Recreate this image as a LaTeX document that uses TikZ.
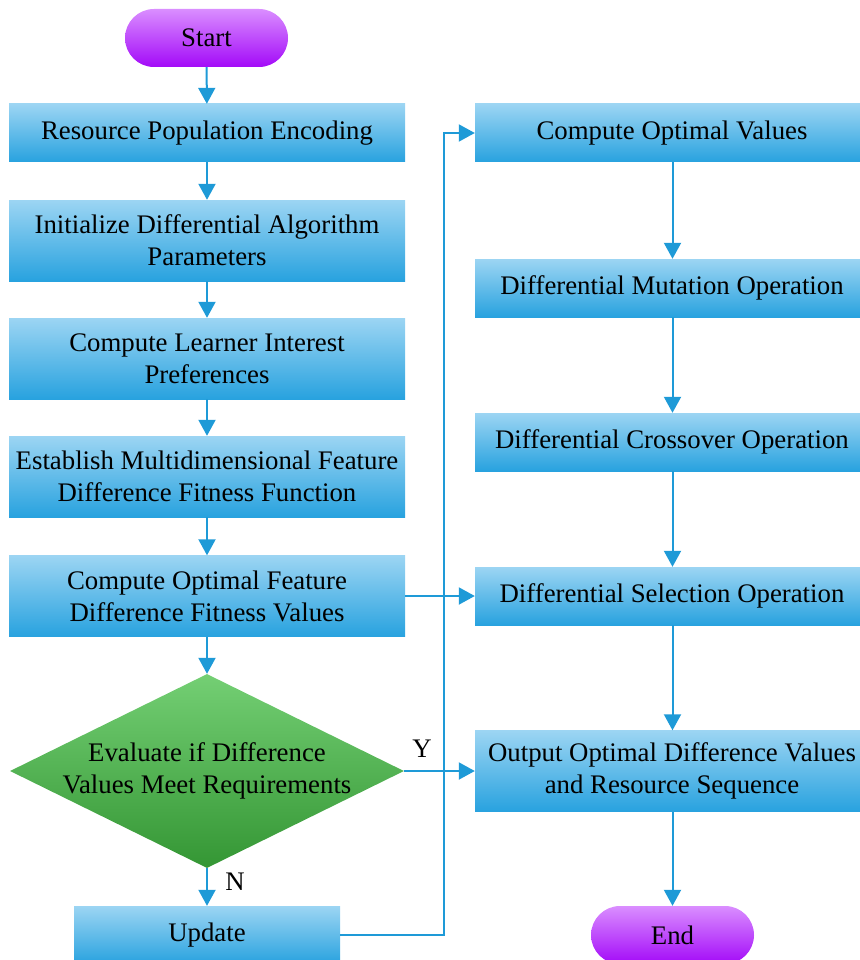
\documentclass[tikz,border=0pt]{standalone}
\usepackage{fontspec}
\setmainfont{Liberation Serif}
\usetikzlibrary{arrows.meta,shapes.geometric}
\definecolor{boxtop}{HTML}{9CD5F3}
\definecolor{boxbot}{HTML}{28A2DF}
\definecolor{arrowc}{HTML}{1E9AD7}
\definecolor{grtop}{HTML}{74CF74}
\definecolor{grbot}{HTML}{349634}
\definecolor{putop}{HTML}{DA8EFF}
\definecolor{pubot}{HTML}{A30AF8}
\begin{document}
\begin{tikzpicture}[x=1pt,y=-1pt,
  every node/.style={font=\fontsize{26.8}{32}\selectfont, text=black},
  proc/.style={rectangle, top color=boxtop, bottom color=boxbot, draw=none, inner sep=0pt, align=center},
  lbox/.style={proc, minimum width=396pt},
  rbox/.style={proc, minimum width=394pt},
  term/.style={rectangle, rounded corners=29pt, top color=putop, bottom color=pubot, draw=none, inner sep=0pt, minimum width=163pt, minimum height=58pt},
  decision/.style={diamond, top color=grtop, bottom color=grbot, draw=none, inner sep=0pt, minimum width=394pt, minimum height=194pt},
  arr/.style={draw=arrowc, line width=2pt, -{Triangle[length=16pt,width=17pt]}},
  lab/.style={inner sep=0pt}
]
\useasboundingbox (0,0) rectangle (859,960);
% left column
\node[term] (start) at (206.5,38) {Start};
\node[lbox, minimum height=58pt] (b1) at (207,133) {Resource Population Encoding};
\node[lbox, minimum height=81pt] (b2) at (207,240.5) {Initialize Differential Algorithm\\Parameters};
\node[lbox, minimum height=81pt] (b3) at (207,358.5) {Compute Learner Interest\\Preferences};
\node[lbox, minimum height=81pt] (b4) at (207,476.5) {Establish Multidimensional Feature\\Difference Fitness Function};
\node[lbox, minimum height=81pt] (b5) at (207,596) {Compute Optimal Feature\\Difference Fitness Values};
\node[decision] (dec) at (207,771) {};
\node[lab, align=center] (dect) at (207,771) {Evaluate if Difference\\Values Meet Requirements};
\node[proc, minimum width=266pt, minimum height=58pt] (upd) at (207,935) {Update};
% right column
\node[rbox, minimum height=58pt] (r1) at (672,133) {Compute Optimal Values};
\node[rbox, minimum height=58pt] (r2) at (672,288) {Differential Mutation Operation};
\node[rbox, minimum height=58pt] (r3) at (672,442) {Differential Crossover Operation};
\node[rbox, minimum height=58pt] (r4) at (672,596) {Differential Selection Operation};
\node[rbox, minimum height=81pt] (r5) at (672,771) {Output Optimal Difference Values\\and Resource Sequence};
\node[term] (end) at (672.5,935) {End};
% labels
\node[lab] (ylab) at (422,749) {Y};
\node[lab] (nlab) at (235,882) {N};
% connectors
\draw[arr] (start) -- (b1);
\draw[arr] (b1) -- (b2);
\draw[arr] (b2) -- (b3);
\draw[arr] (b3) -- (b4);
\draw[arr] (b4) -- (b5);
\draw[arr] (b5) -- (dec);
\draw[arr] (dec) -- (upd);
\draw[arr] (b5.east) -- (r4.west);
\draw[arr] (dec.east) -- (r5.west);
\coordinate (jx) at (444,133);
\draw[arr] (upd.east) -| (jx) -- (r1.west);
\draw[arr] (r1.south -| end.north) -- (r2.north -| end.north);
\draw[arr] (r2.south -| end.north) -- (r3.north -| end.north);
\draw[arr] (r3.south -| end.north) -- (r4.north -| end.north);
\draw[arr] (r4.south -| end.north) -- (r5.north -| end.north);
\draw[arr] (r5.south -| end.north) -- (end.north);
\end{tikzpicture}
\end{document}
